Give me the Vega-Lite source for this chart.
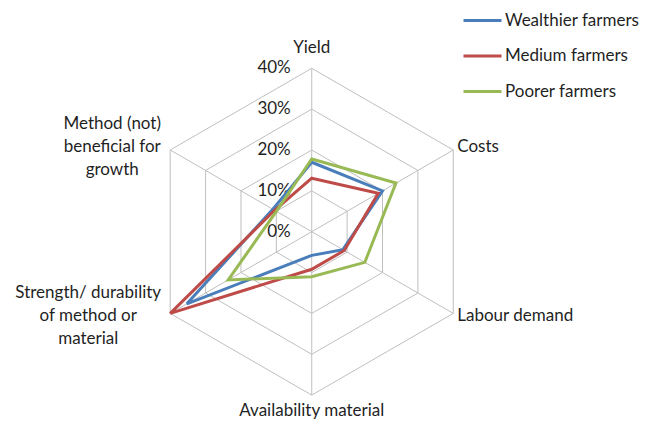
{
  "$schema": "https://vega.github.io/schema/vega-lite/v6.json",
  "width": 648,
  "height": 421,
  "padding": 0,
  "autosize": "none",
  "background": "white",
  "config": {
    "view": {"stroke": null},
    "font": "Lato",
    "text": {"font": "Lato", "fontSize": 17, "color": "#1f1f1f"},
    "legend": {"labelFont": "Lato"}
  },
  "datasets": {
    "axes": [
      {"axis": "Yield", "k": 0, "label": "Yield"},
      {"axis": "Costs", "k": 1, "label": "Costs"},
      {"axis": "Labour demand", "k": 2, "label": "Labour demand"},
      {"axis": "Availability material", "k": 3, "label": "Availability material"},
      {"axis": "Strength/ durability of method or material", "k": 4, "label": "Strength/ durability|of method or|material"},
      {"axis": "Method (not) beneficial for growth", "k": 5, "label": "Method (not)|beneficial for|growth"}
    ],
    "rings": [
      {"level": 0.1, "k": [0, 1, 2, 3, 4, 5]},
      {"level": 0.2, "k": [0, 1, 2, 3, 4, 5]},
      {"level": 0.3, "k": [0, 1, 2, 3, 4, 5]},
      {"level": 0.4, "k": [0, 1, 2, 3, 4, 5]}
    ],
    "ticks": [{"v": 0}, {"v": 0.1}, {"v": 0.2}, {"v": 0.3}, {"v": 0.4}],
    "scores": [
      {"series": "Wealthier farmers", "axis": "Yield", "k": 0, "value": 0.17},
      {"series": "Wealthier farmers", "axis": "Costs", "k": 1, "value": 0.2},
      {"series": "Wealthier farmers", "axis": "Labour demand", "k": 2, "value": 0.088},
      {"series": "Wealthier farmers", "axis": "Availability material", "k": 3, "value": 0.058},
      {"series": "Wealthier farmers", "axis": "Strength/ durability of method or material", "k": 4, "value": 0.353},
      {"series": "Wealthier farmers", "axis": "Method (not) beneficial for growth", "k": 5, "value": 0.11},
      {"series": "Medium farmers", "axis": "Yield", "k": 0, "value": 0.131},
      {"series": "Medium farmers", "axis": "Costs", "k": 1, "value": 0.188},
      {"series": "Medium farmers", "axis": "Labour demand", "k": 2, "value": 0.092},
      {"series": "Medium farmers", "axis": "Availability material", "k": 3, "value": 0.092},
      {"series": "Medium farmers", "axis": "Strength/ durability of method or material", "k": 4, "value": 0.4},
      {"series": "Medium farmers", "axis": "Method (not) beneficial for growth", "k": 5, "value": 0.105},
      {"series": "Poorer farmers", "axis": "Yield", "k": 0, "value": 0.178},
      {"series": "Poorer farmers", "axis": "Costs", "k": 1, "value": 0.238},
      {"series": "Poorer farmers", "axis": "Labour demand", "k": 2, "value": 0.15},
      {"series": "Poorer farmers", "axis": "Availability material", "k": 3, "value": 0.11},
      {"series": "Poorer farmers", "axis": "Strength/ durability of method or material", "k": 4, "value": 0.236},
      {"series": "Poorer farmers", "axis": "Method (not) beneficial for growth", "k": 5, "value": 0.1}
    ]
  },
  "layer": [
    {
      "data": {"name": "rings"},
      "transform": [
        {"flatten": ["k"]},
        {"calculate": "datum.level * sin(datum.k * PI / 3)", "as": "x"},
        {"calculate": "datum.level * cos(datum.k * PI / 3)", "as": "y"}
      ],
      "mark": {"type": "line", "interpolate": "linear-closed", "stroke": "#BFBFBF", "strokeWidth": 1},
      "encoding": {
        "x": {"field": "x", "type": "quantitative", "scale": {"domain": [-0.763, 0.823], "nice": false, "zero": false}, "axis": null},
        "y": {"field": "y", "type": "quantitative", "scale": {"domain": [-0.4634, 0.5672], "nice": false, "zero": false}, "axis": null},
        "detail": {"field": "level", "type": "nominal"},
        "order": {"field": "k", "type": "quantitative"}
      }
    },
    {
      "data": {"name": "axes"},
      "transform": [
        {"calculate": "0.4 * sin(datum.k * PI / 3)", "as": "x"},
        {"calculate": "0.4 * cos(datum.k * PI / 3)", "as": "y"}
      ],
      "mark": {"type": "rule", "stroke": "#BFBFBF", "strokeWidth": 1},
      "encoding": {
        "x": {"field": "x", "type": "quantitative", "scale": {"domain": [-0.763, 0.823], "nice": false, "zero": false}, "axis": null},
        "y": {"field": "y", "type": "quantitative", "scale": {"domain": [-0.4634, 0.5672], "nice": false, "zero": false}, "axis": null},
        "x2": {"datum": 0},
        "y2": {"datum": 0}
      }
    },
    {
      "data": {"name": "ticks"},
      "mark": {"type": "text", "align": "right", "baseline": "middle", "dx": -21, "fontSize": 17},
      "encoding": {
        "x": {"datum": 0, "type": "quantitative", "scale": {"domain": [-0.763, 0.823], "nice": false, "zero": false}, "axis": null},
        "y": {"field": "v", "type": "quantitative", "scale": {"domain": [-0.4634, 0.5672], "nice": false, "zero": false}, "axis": null},
        "text": {"field": "v", "type": "quantitative", "format": ".0%"}
      }
    },
    {
      "data": {"name": "scores"},
      "transform": [
        {"filter": "datum.series === 'Wealthier farmers'"},
        {"calculate": "datum.value * sin(datum.k * PI / 3)", "as": "x"},
        {"calculate": "datum.value * cos(datum.k * PI / 3)", "as": "y"}
      ],
      "mark": {"type": "line", "interpolate": "linear-closed", "strokeWidth": 3},
      "encoding": {
        "x": {"field": "x", "type": "quantitative", "scale": {"domain": [-0.763, 0.823], "nice": false, "zero": false}, "axis": null},
        "y": {"field": "y", "type": "quantitative", "scale": {"domain": [-0.4634, 0.5672], "nice": false, "zero": false}, "axis": null},
        "order": {"field": "k", "type": "quantitative"},
        "color": {
          "field": "series", "type": "nominal",
          "scale": {"domain": ["Wealthier farmers", "Medium farmers", "Poorer farmers"], "range": ["#4A7EBB", "#BE4B48", "#98B954"]},
          "legend": {
            "title": null, "orient": "none", "legendX": 462, "legendY": 0,
            "symbolType": "stroke", "symbolSize": 1444, "symbolStrokeWidth": 3,
            "labelFontSize": 17, "labelColor": "#1f1f1f", "labelOffset": 2,
            "rowPadding": 6.5, "padding": 0
          }
        }
      }
    },
    {
      "data": {"name": "scores"},
      "transform": [
        {"filter": "datum.series === 'Medium farmers'"},
        {"calculate": "datum.value * sin(datum.k * PI / 3)", "as": "x"},
        {"calculate": "datum.value * cos(datum.k * PI / 3)", "as": "y"}
      ],
      "mark": {"type": "line", "interpolate": "linear-closed", "strokeWidth": 3},
      "encoding": {
        "x": {"field": "x", "type": "quantitative", "scale": {"domain": [-0.763, 0.823], "nice": false, "zero": false}, "axis": null},
        "y": {"field": "y", "type": "quantitative", "scale": {"domain": [-0.4634, 0.5672], "nice": false, "zero": false}, "axis": null},
        "order": {"field": "k", "type": "quantitative"},
        "color": {"field": "series", "type": "nominal", "scale": {"domain": ["Wealthier farmers", "Medium farmers", "Poorer farmers"], "range": ["#4A7EBB", "#BE4B48", "#98B954"]}}
      }
    },
    {
      "data": {"name": "scores"},
      "transform": [
        {"filter": "datum.series === 'Poorer farmers'"},
        {"calculate": "datum.value * sin(datum.k * PI / 3)", "as": "x"},
        {"calculate": "datum.value * cos(datum.k * PI / 3)", "as": "y"}
      ],
      "mark": {"type": "line", "interpolate": "linear-closed", "strokeWidth": 3},
      "encoding": {
        "x": {"field": "x", "type": "quantitative", "scale": {"domain": [-0.763, 0.823], "nice": false, "zero": false}, "axis": null},
        "y": {"field": "y", "type": "quantitative", "scale": {"domain": [-0.4634, 0.5672], "nice": false, "zero": false}, "axis": null},
        "order": {"field": "k", "type": "quantitative"},
        "color": {"field": "series", "type": "nominal", "scale": {"domain": ["Wealthier farmers", "Medium farmers", "Poorer farmers"], "range": ["#4A7EBB", "#BE4B48", "#98B954"]}}
      }
    },
    {
      "data": {"name": "axes"},
      "transform": [
        {"filter": "datum.k === 0"},
        {"calculate": "0.4 * sin(datum.k * PI / 3)", "as": "x"},
        {"calculate": "0.4 * cos(datum.k * PI / 3)", "as": "y"}
      ],
      "mark": {"type": "text", "align": "center", "baseline": "middle", "dy": -20, "fontSize": 17},
      "encoding": {
        "x": {"field": "x", "type": "quantitative", "scale": {"domain": [-0.763, 0.823], "nice": false, "zero": false}, "axis": null},
        "y": {"field": "y", "type": "quantitative", "scale": {"domain": [-0.4634, 0.5672], "nice": false, "zero": false}, "axis": null},
        "text": {"field": "label", "type": "nominal"}
      }
    },
    {
      "data": {"name": "axes"},
      "transform": [
        {"filter": "datum.k === 1"},
        {"calculate": "0.4 * sin(datum.k * PI / 3)", "as": "x"},
        {"calculate": "0.4 * cos(datum.k * PI / 3)", "as": "y"}
      ],
      "mark": {"type": "text", "align": "left", "baseline": "middle", "dx": 4, "dy": -3, "fontSize": 17},
      "encoding": {
        "x": {"field": "x", "type": "quantitative", "scale": {"domain": [-0.763, 0.823], "nice": false, "zero": false}, "axis": null},
        "y": {"field": "y", "type": "quantitative", "scale": {"domain": [-0.4634, 0.5672], "nice": false, "zero": false}, "axis": null},
        "text": {"field": "label", "type": "nominal"}
      }
    },
    {
      "data": {"name": "axes"},
      "transform": [
        {"filter": "datum.k === 2"},
        {"calculate": "0.4 * sin(datum.k * PI / 3)", "as": "x"},
        {"calculate": "0.4 * cos(datum.k * PI / 3)", "as": "y"}
      ],
      "mark": {"type": "text", "align": "left", "baseline": "middle", "dx": 4, "dy": 3, "fontSize": 17},
      "encoding": {
        "x": {"field": "x", "type": "quantitative", "scale": {"domain": [-0.763, 0.823], "nice": false, "zero": false}, "axis": null},
        "y": {"field": "y", "type": "quantitative", "scale": {"domain": [-0.4634, 0.5672], "nice": false, "zero": false}, "axis": null},
        "text": {"field": "label", "type": "nominal"}
      }
    },
    {
      "data": {"name": "axes"},
      "transform": [
        {"filter": "datum.k === 3"},
        {"calculate": "0.4 * sin(datum.k * PI / 3)", "as": "x"},
        {"calculate": "0.4 * cos(datum.k * PI / 3)", "as": "y"}
      ],
      "mark": {"type": "text", "align": "center", "baseline": "middle", "dy": 16, "fontSize": 17},
      "encoding": {
        "x": {"field": "x", "type": "quantitative", "scale": {"domain": [-0.763, 0.823], "nice": false, "zero": false}, "axis": null},
        "y": {"field": "y", "type": "quantitative", "scale": {"domain": [-0.4634, 0.5672], "nice": false, "zero": false}, "axis": null},
        "text": {"field": "label", "type": "nominal"}
      }
    },
    {
      "data": {"name": "axes"},
      "transform": [
        {"filter": "datum.k === 4"},
        {"calculate": "0.4 * sin(datum.k * PI / 3)", "as": "x"},
        {"calculate": "0.4 * cos(datum.k * PI / 3)", "as": "y"}
      ],
      "mark": {"type": "text", "align": "center", "baseline": "middle", "dx": -82, "dy": -20, "fontSize": 17, "lineBreak": "|", "lineHeight": 23},
      "encoding": {
        "x": {"field": "x", "type": "quantitative", "scale": {"domain": [-0.763, 0.823], "nice": false, "zero": false}, "axis": null},
        "y": {"field": "y", "type": "quantitative", "scale": {"domain": [-0.4634, 0.5672], "nice": false, "zero": false}, "axis": null},
        "text": {"field": "label", "type": "nominal"}
      }
    },
    {
      "data": {"name": "axes"},
      "transform": [
        {"filter": "datum.k === 5"},
        {"calculate": "0.4 * sin(datum.k * PI / 3)", "as": "x"},
        {"calculate": "0.4 * cos(datum.k * PI / 3)", "as": "y"}
      ],
      "mark": {"type": "text", "align": "center", "baseline": "middle", "dx": -58, "dy": -26, "fontSize": 17, "lineBreak": "|", "lineHeight": 23},
      "encoding": {
        "x": {"field": "x", "type": "quantitative", "scale": {"domain": [-0.763, 0.823], "nice": false, "zero": false}, "axis": null},
        "y": {"field": "y", "type": "quantitative", "scale": {"domain": [-0.4634, 0.5672], "nice": false, "zero": false}, "axis": null},
        "text": {"field": "label", "type": "nominal"}
      }
    }
  ]
}
